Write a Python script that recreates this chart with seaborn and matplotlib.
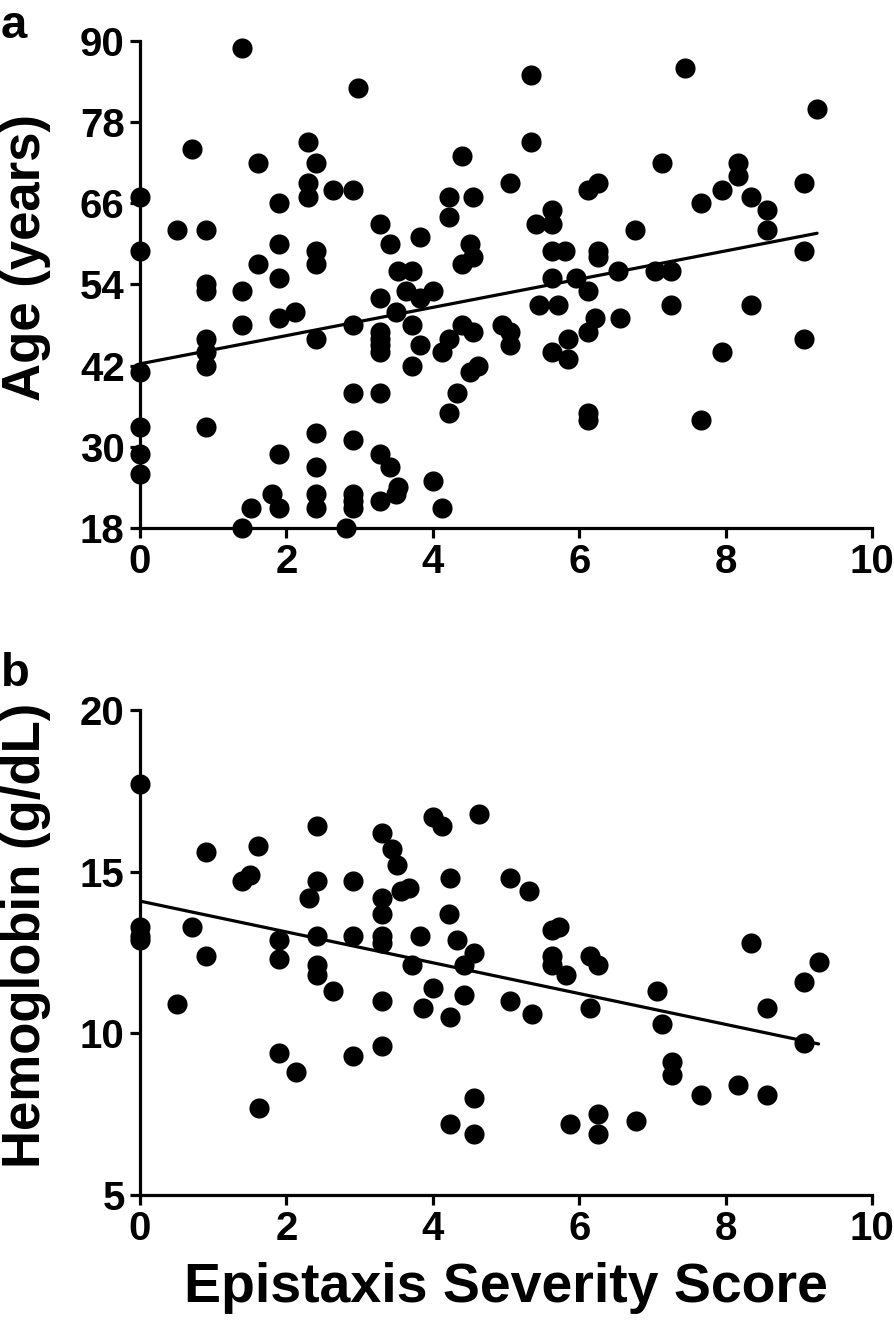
import matplotlib
matplotlib.use("Agg")
import matplotlib.pyplot as plt
import pandas as pd
import seaborn as sns

# panel a: epistaxis severity score vs age
age_x = [
    0, 0, 0, 0, 0, 0,
    0.5, 0.71,
    0.9, 0.9, 0.9, 0.9, 0.9, 0.9, 0.9,
    1.39, 1.39, 1.39, 1.39, 1.51, 1.61, 1.61, 1.80,
    1.90, 1.90, 1.90, 1.90, 1.90, 1.90, 2.12,
    2.30, 2.30, 2.30,
    2.41, 2.41, 2.41, 2.41, 2.41, 2.41, 2.41, 2.41,
    2.63, 2.81,
    2.91, 2.91, 2.91, 2.91, 2.91, 2.91, 2.91, 2.98,
    3.28, 3.28, 3.28, 3.28, 3.28, 3.28, 3.28, 3.28, 3.28,
    3.42, 3.42, 3.50, 3.53, 3.53, 3.50, 3.64,
    3.71, 3.71, 3.71, 3.83, 3.83, 3.83, 4.0, 4.0, 4.12, 4.12,
    4.22, 4.22, 4.22, 4.22, 4.33, 4.40, 4.40, 4.40, 4.51, 4.51,
    4.55, 4.55, 4.55, 4.62, 4.95, 5.05, 5.05, 5.05,
    5.34, 5.34, 5.41, 5.45,
    5.63, 5.63, 5.63, 5.63, 5.63, 5.71, 5.81, 5.85, 5.85, 5.96,
    6.12, 6.12, 6.12, 6.12, 6.12, 6.22, 6.25, 6.25, 6.25,
    6.53, 6.56, 6.76, 7.04, 7.13, 7.25, 7.25, 7.44, 7.66, 7.66,
    7.95, 7.95, 8.17, 8.17, 8.35, 8.35, 8.57, 8.57,
    9.07, 9.07, 9.07, 9.25,
]
age_y = [
    67, 59, 41, 33, 29, 26,
    62, 74,
    62, 54, 53, 46, 44, 42, 33,
    89, 53, 48, 18, 21, 72, 57, 23,
    66, 60, 55, 49, 29, 21, 50,
    75, 69, 67,
    72, 59, 57, 46, 32, 27, 23, 21,
    68, 18,
    68, 48, 38, 31, 23, 22, 21, 83,
    63, 52, 47, 46, 45, 44, 38, 29, 22,
    60, 27, 50, 56, 24, 23, 53,
    56, 48, 42, 61, 52, 45, 53, 25, 44, 21,
    67, 64, 46, 35, 38, 73, 57, 48, 60, 41,
    67, 58, 47, 42, 48, 69, 47, 45,
    85, 75, 63, 51,
    65, 63, 59, 55, 44, 51, 59, 46, 43, 55,
    68, 53, 47, 35, 34, 49, 69, 59, 58,
    56, 49, 62, 56, 72, 56, 51, 86, 66, 34,
    68, 44, 72, 70, 67, 51, 65, 62,
    69, 59, 46, 80,
]

# panel b: epistaxis severity score vs hemoglobin
hb_x = [
    0, 0, 0, 0, 0.51, 0.71, 0.90, 0.90,
    1.40, 1.50, 1.61, 1.62, 1.90, 1.90, 1.90, 2.13, 2.31,
    2.42, 2.42, 2.42, 2.42, 2.42, 2.63, 2.91, 2.91, 2.91,
    3.31, 3.31, 3.31, 3.31, 3.31, 3.31, 3.31,
    3.44, 3.51, 3.56, 3.68, 3.71, 3.83, 3.86, 4.0, 4.0, 4.12,
    4.22, 4.24, 4.24, 4.24, 4.33, 4.42, 4.42, 4.56, 4.56, 4.56, 4.63,
    5.05, 5.05, 5.32, 5.35, 5.63, 5.63, 5.63, 5.73, 5.82, 5.88,
    6.15, 6.15, 6.26, 6.26, 6.26, 6.77, 7.06, 7.13, 7.27, 7.27,
    7.66, 8.17, 8.35, 8.57, 8.57, 9.07, 9.07, 9.27,
]
hb_y = [
    17.7, 13.3, 13.0, 12.9, 10.9, 13.3, 15.6, 12.4,
    14.7, 14.9, 15.8, 7.7, 12.9, 12.3, 9.4, 8.8, 14.2,
    16.4, 14.7, 13.0, 12.1, 11.8, 11.3, 14.7, 13.0, 9.3,
    16.2, 14.2, 13.7, 13.0, 12.8, 11.0, 9.6,
    15.7, 15.2, 14.4, 14.5, 12.1, 13.0, 10.8, 16.7, 11.4, 16.4,
    13.7, 14.8, 10.5, 7.2, 12.9, 12.1, 11.2, 12.5, 8.0, 6.9, 16.8,
    14.8, 11.0, 14.4, 10.6, 13.2, 12.4, 12.1, 13.3, 11.8, 7.2,
    12.4, 10.8, 12.1, 7.5, 6.9, 7.3, 11.3, 10.3, 9.1, 8.7,
    8.1, 8.4, 12.8, 10.8, 8.1, 11.6, 9.7, 12.2,
]

x_ticks = [0, 2, 4, 6, 8, 10]
age_ticks = [18, 30, 42, 54, 66, 78, 90]
hb_ticks = [5, 10, 15, 20]

sns.set_style("ticks")
plt.rcParams["font.family"] = ["Liberation Sans", "DejaVu Sans"]
plt.rcParams["font.weight"] = "bold"
for key in ["text.color", "axes.labelcolor", "xtick.color", "ytick.color", "axes.edgecolor"]:
    plt.rcParams[key] = "black"

fig = plt.figure(figsize=(8.94, 13.39), dpi=100)
ax_a = fig.add_axes([0.1566, 0.6057, 0.8188, 0.3637])
ax_b = fig.add_axes([0.1566, 0.1075, 0.8188, 0.3622])

df_a = pd.DataFrame({"score": age_x, "value": age_y})
df_b = pd.DataFrame({"score": hb_x, "value": hb_y})

panels = [
    (ax_a, df_a, age_ticks, "Age (years)", 0.555),
    (ax_b, df_b, hb_ticks, "Hemoglobin (g/dL)", 0.535),
]
for ax, df, yticks, ylabel, ypos in panels:
    sns.scatterplot(data=df, x="score", y="value", ax=ax, color="black",
                    s=210, linewidth=0, clip_on=False, zorder=3)
    sns.regplot(data=df, x="score", y="value", ax=ax, scatter=False, ci=None,
                truncate=True, color="black", line_kws={"linewidth": 2.3})
    ax.set_xlim(0, 10)
    ax.set_ylim(yticks[0], yticks[-1])
    ax.set_xticks(x_ticks)
    ax.set_yticks(yticks)
    sns.despine(ax=ax)
    for side in ["left", "bottom"]:
        ax.spines[side].set_linewidth(2.3)
    ax.tick_params(width=2.3, length=7, labelsize=29, pad=4)
    for lab in ax.get_xticklabels() + ax.get_yticklabels():
        lab.set_fontweight("bold")
    ax.set_xlabel("")
    ax.set_ylabel(ylabel, fontsize=38, fontweight="bold")
    ax.yaxis.set_label_coords(-0.121, ypos)

ax_a.text(-0.19, 1.075, "a", transform=ax_a.transAxes, fontsize=34,
          fontweight="bold", va="top", ha="left")
ax_b.text(-0.19, 1.12, "b", transform=ax_b.transAxes, fontsize=34,
          fontweight="bold", va="top", ha="left")
ax_b.set_xlabel("Epistaxis Severity Score", fontsize=40, fontweight="bold",
                labelpad=10)

fig.savefig("out.png", dpi=100)
